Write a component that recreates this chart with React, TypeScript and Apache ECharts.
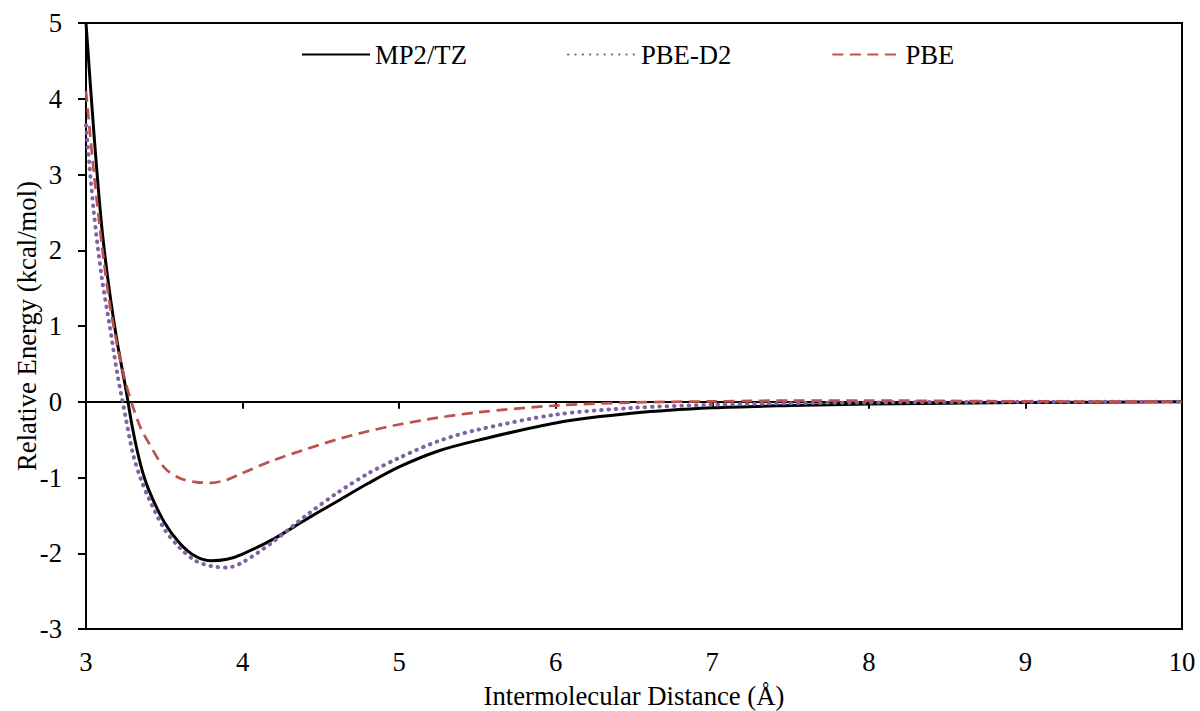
import React, { useEffect, useRef } from "react";
import * as echarts from "echarts";

const distance = [3.0, 3.05, 3.1, 3.15, 3.2, 3.25, 3.3, 3.35, 3.4, 3.5, 3.6, 3.7, 3.8, 3.9, 4.0, 4.2, 4.4, 4.6, 4.8, 5.0, 5.25, 5.5, 6.0, 6.5, 7.0, 7.5, 8.0, 9.0, 10.0];
const mp2 = [5.0, 3.56, 2.32, 1.46, 0.78, 0.22, -0.38, -0.84, -1.16, -1.59, -1.87, -2.04, -2.1, -2.08, -2.01, -1.81, -1.56, -1.32, -1.08, -0.86, -0.65, -0.51, -0.28, -0.15, -0.08, -0.05, -0.03, -0.01, 0.0];
const pbeD2 = [3.65, 2.5, 1.65, 1.02, 0.37, -0.17, -0.69, -1.02, -1.27, -1.68, -1.93, -2.1, -2.17, -2.19, -2.12, -1.84, -1.51, -1.21, -0.95, -0.74, -0.52, -0.37, -0.17, -0.08, -0.04, -0.02, -0.01, 0.0, 0.0];
const pbe = [4.1, 3.03, 2.09, 1.31, 0.74, 0.28, -0.07, -0.35, -0.54, -0.87, -1.01, -1.06, -1.07, -1.03, -0.94, -0.77, -0.63, -0.5, -0.39, -0.3, -0.21, -0.14, -0.05, -0.01, 0.005, 0.015, 0.015, 0.005, 0.0];
const seriesNames = ["MP2/TZ", "PBE-D2", "PBE"];

const FONT = "'Liberation Serif', 'Times New Roman', serif";

export default function App() {
  const ref = useRef<HTMLDivElement>(null);
  useEffect(() => {
    if (!ref.current) return;
    const chart = echarts.init(ref.current, undefined, { renderer: "svg" });
    const pairs = (ys: number[]) => distance.map((x, i) => [x, ys[i]]);
    const textStyle = { fontFamily: FONT, fontSize: 26.7, color: "#000" };
    chart.setOption({
      animation: false,
      backgroundColor: "#fff",
      textStyle: { fontFamily: FONT },
      grid: {
        left: 86,
        right: 18,
        top: 23,
        bottom: 82,
        show: true,
        borderColor: "#000",
        borderWidth: 2,
        containLabel: false,
        outerBoundsMode: "none",
      },
      legend: {
        left: 296,
        top: 36,
        itemWidth: 68,
        itemHeight: 14,
        itemGap: 100,
        itemStyle: { opacity: 0 },
        textStyle: { ...textStyle },
        data: seriesNames,
      },
      xAxis: [
        {
          type: "value",
          min: 3,
          max: 10,
          interval: 1,
          position: "bottom",
          axisLine: { show: false, onZero: false },
          axisTick: { show: false },
          splitLine: { show: false },
          axisLabel: { ...textStyle, margin: 19 },
          name: "Intermolecular Distance (Å)",
          nameLocation: "middle",
          nameGap: 53,
          nameMoveOverlap: false,
          nameTextStyle: { ...textStyle },
        },
        {
          type: "value",
          min: 3,
          max: 10,
          interval: 1,
          position: "bottom",
          axisLine: { show: true, onZero: true, lineStyle: { color: "#000", width: 2 } },
          axisTick: { show: true, inside: false, length: 7, lineStyle: { color: "#000", width: 2 } },
          splitLine: { show: false },
          axisLabel: { show: false },
        },
      ],
      yAxis: {
        type: "value",
        min: -3,
        max: 5,
        interval: 1,
        axisLine: { show: true, onZero: false, lineStyle: { color: "#000", width: 2 } },
        axisTick: { show: true, length: 8, lineStyle: { color: "#000", width: 2 } },
        splitLine: { show: false },
        axisLabel: { ...textStyle, margin: 24 },
        name: "Relative Energy (kcal/mol)",
        nameLocation: "middle",
        nameGap: 46,
        nameMoveOverlap: false,
        nameTextStyle: { ...textStyle },
      },
      series: [
        {
          name: seriesNames[0],
          type: "line",
          data: pairs(mp2),
          smooth: 0.3,
          symbol: "none",
          z: 3,
          lineStyle: { color: "#000", width: 3 },
          itemStyle: { color: "#000" },
        },
        {
          name: seriesNames[1],
          type: "line",
          data: pairs(pbeD2),
          smooth: 0.3,
          symbol: "none",
          z: 4,
          lineStyle: { color: "#8064A2", width: 4, type: [0.5, 6.8], cap: "round" },
          itemStyle: { color: "#8064A2" },
        },
        {
          name: seriesNames[2],
          type: "line",
          data: pairs(pbe),
          smooth: 0.3,
          symbol: "none",
          z: 5,
          lineStyle: { color: "#C0504D", width: 2.7, type: [11, 6.5] },
          itemStyle: { color: "#C0504D" },
        },
      ],
    });
    return () => chart.dispose();
  }, []);
  return <div ref={ref} style={{ position: "absolute", left: 0, top: 0, width: 1200, height: 711 }} />;
}
